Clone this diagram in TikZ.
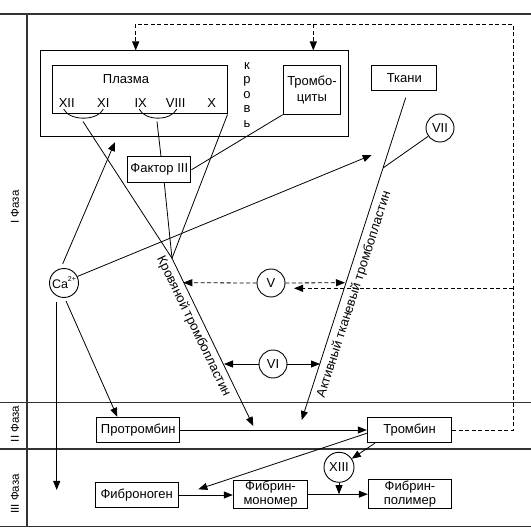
\documentclass[tikz,border=0pt]{standalone}
\usepackage{fontspec}
\setmainfont{Liberation Sans}
\usetikzlibrary{arrows.meta,calc}
\begin{document}
\begin{tikzpicture}[x=1pt,y=-1pt,
  box/.style={draw, line width=1pt, inner sep=0pt, font=\fontsize{13}{16}\selectfont, align=center},
  circ/.style={draw, circle, line width=0.9pt, inner sep=0pt, minimum size=28pt, font=\fontsize{13}{15}\selectfont},
  ln/.style={line width=0.8pt},
  arr/.style={ln, -{Triangle[length=9pt,width=7pt]}},
  dsh/.style={ln, dash pattern=on 4pt off 2.5pt},
  frame/.style={line width=1.3pt, black!80},
  lbl/.style={font=\fontsize{13}{15}\selectfont, inner sep=0pt},
  phase/.style={font=\fontsize{11.5}{13}\selectfont, rotate=90}
]
\useasboundingbox (0,0) rectangle (531,529);
% frame
\draw[frame] (0,14) -- (531,14);
\draw[frame] (0,402.7) -- (531,402.7);
\draw[frame] (0,449) -- (531,449);
\draw[frame] (0,526.7) -- (531,526.7);
\draw[frame] (27,14) -- (27,526.7);
\node[phase] (ph1) at (15,207) {I Фаза};
\node[phase] (ph2) at (15,424) {II Фаза};
\node[phase] (ph3) at (15,494) {III Фаза};

% blood box
\node[box, minimum width=308pt, minimum height=86pt] (blood) at (194,94) {};
\node[box, minimum width=175pt, minimum height=48pt] (plasma) at (139.5,90) {};
\node[lbl] (plt) at (126,79) {Плазма};
\node[lbl] (f12) at (66.7,103.5) {XII};
\node[lbl] (f11) at (103.3,103.5) {XI};
\node[lbl] (f9) at (140.7,103.5) {IX};
\node[lbl] (f8) at (175.7,103.5) {VIII};
\node[lbl] (f10) at (211.7,103.5) {X};
\draw[ln] ($(f12.south)+(-3,1)$) .. controls +(6,12) and +(-6,12) .. ($(f11.south)+(0,1)$);
\draw[ln] ($(f9.south)+(-1.5,1)$) .. controls +(6,12) and +(-6,12) .. ($(f8.south)+(1,1)$);
\node[lbl, align=center, font=\fontsize{13}{14.5}\selectfont] (krov) at (247,95) {к\\р\\о\\в\\ь};
\node[box, minimum width=57.4pt, minimum height=48.3pt] (trc) at (312,90) {Тромбо-\\циты};
\node[box, minimum width=64.7pt, minimum height=25.3pt] (tk) at (404.3,78.3) {Ткани};
\node[box, minimum width=63.3pt, minimum height=25.7pt] (f3) at (159.3,169.8) {Фактор III};
\node[circ] (c7) at (440,128) {VII};

% phase II / III boxes
\node[box, minimum width=83.3pt, minimum height=25.4pt] (prot) at (138.3,430) {Протромбин};
\node[box, minimum width=84.4pt, minimum height=25.4pt] (tr) at (409.5,430) {Тромбин};
\node[box, minimum width=83.3pt, minimum height=25pt] (fg) at (136.7,495) {Фиброноген};
\node[box, minimum width=74.4pt, minimum height=28.3pt, font=\fontsize{13}{14}\selectfont] (fm) at (270.5,494.2) {Фибрин-\\мономер};
\node[box, minimum width=83.4pt, minimum height=29pt, font=\fontsize{13}{14}\selectfont] (fp) at (410,493.8) {Фибрин-\\полимер};
\node[circ, minimum size=30pt] (c13) at (339,467.3) {XIII};

% circles
\node[circ, minimum size=29pt, font=\fontsize{12.5}{14}\selectfont] (ca) at (64,283) {Ca\raisebox{0.55em}{\fontsize{7}{8}\selectfont 2+}};
\node[circ] (c5) at (271,283) {V};
\node[circ] (c6) at (273,364) {VI};

% coordinates
\coordinate (a1) at (83,121.5);
\coordinate (a2) at (157,121.5);
\coordinate (kp) at (172,258.3);
\coordinate (kend) at (253.3,426);
\coordinate (tstart) at (405.7,97.7);
\coordinate (tend) at (301.7,420);
\coordinate (j7) at (383,168);
\coordinate (caup) at (115,142);
\coordinate (catk) at (371.7,155);
\coordinate (cadown) at (56.7,490);
\coordinate (fibpt) at (198.3,489.3);
\coordinate (k5) at (183.3,282.7);
\coordinate (t5) at (345,282.7);
\coordinate (k6) at (224,364);
\coordinate (t6) at (320,364);
\coordinate (dtopR) at (513.3,24.3);
\coordinate (dtopL) at (135.7,24.3);
\coordinate (dmid) at (313.3,24.3);
\coordinate (dv) at (513.3,288.3);
\coordinate (dvend) at (294,288.3);

% plasma lines
\draw[ln] (a1) -- (kp);
\draw[ln] (a2) -- ($(f3.north)+(1.7,0)$);
\draw[ln] ($(f3.south)+(5,0)$) -- (kp);
\draw[ln] (plasma.south east) -- (kp);
\draw[ln] (trc.south west) -- (f3.east);
\draw[arr] (kp) -- (kend);
\path (kp) -- (kend) node[pos=0.38, sloped, below=4pt, lbl] {Кровяной тромбопластин};

% tissue line
\draw[arr] (tstart) -- (tend);
\path (tend) -- (tstart) node[pos=0.40, sloped, below=5pt, lbl] {Активный тканевый тромбопластин};
\draw[ln] (c7) -- (j7);

% Ca lines
\draw[arr] ($(ca.north)+(-1.3,-4.2)$) -- (caup);
\draw[arr] (ca.26) -- (catk);
\draw[arr] ($(ca.south)+(2,3)$) -- ($(prot.north)+(-21,0)$);
\draw[arr] ($(ca.south)+(-7.3,4.2)$) -- (cadown);

% V, VI
\draw[dsh, arr] (c5.west) -- (k5);
\draw[dsh, arr] (c5.east) -- (t5);
\draw[arr] (c6.west) -- (k6);
\draw[arr] (c6.east) -- (t6);

% phase II/III arrows
\draw[arr] (prot.east) -- (tr.west);
\draw[arr] ($(tr.south west)+(8,0)$) -- (c13);
\draw[arr] ($(tr.west)+(0,3.3)$) -- (fibpt);
\draw[arr] (fg.east) -- (fg.east -| fm.west);
\draw[arr] (fm.east) -- (fm.east -| fp.west);
\draw[arr] (c13.south) -- (c13.south |- fm.east);

% dashed feedback
\draw[dsh] (tr.east) -| (dtopR) -- (dtopL);
\draw[dsh, arr] (dtopL) -- (dtopL |- blood.north);
\draw[dsh, arr] (dmid) -- (dmid |- blood.north);
\draw[dsh, arr] (dv) -- (dvend);
\end{tikzpicture}
\end{document}
